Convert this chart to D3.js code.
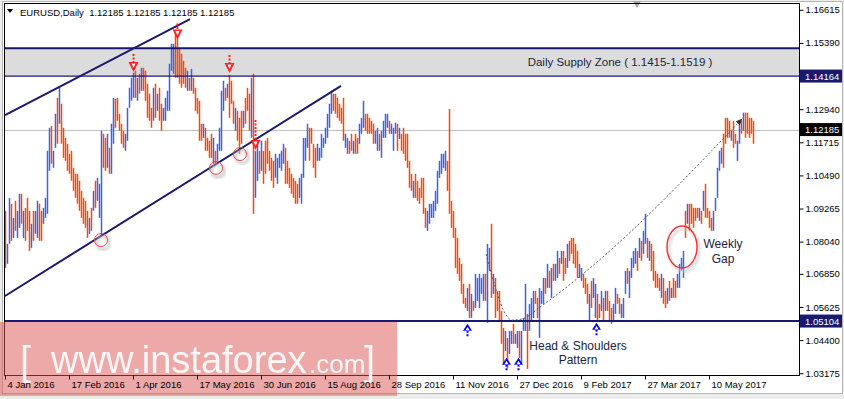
<!DOCTYPE html>
<html>
<head>
<meta charset="utf-8">
<script src="https://cdn.jsdelivr.net/npm/d3@7"></script>
<style>
body { margin: 0; background: #fff; }
svg { display: block; font-family: "Liberation Sans", Arial, sans-serif; }
</style>
</head>
<body>
<div id="chart"></div>
<script>
// EURUSD daily bars, Jan 2016 - May 2017
var hi = [
1.0918,1.0796,1.0966,1.0944,1.0892,1.0955,1.0918,1.0981,1.0981,1.0918,
1.0929,1.0966,1.0918,1.0870,1.0918,1.0918,1.0955,1.0944,1.0918,1.0929,
1.0966,1.1140,1.1225,1.1232,1.1140,1.1277,1.1336,1.1373,1.1314,1.1225,
1.1188,1.1166,1.1129,1.1140,1.1077,1.1055,1.1055,1.1029,1.0992,1.0966,
1.0955,1.0918,1.0892,1.0929,1.0992,1.1029,1.1040,1.1018,1.1214,1.1203,
1.1188,1.1203,1.1151,1.1240,1.1336,1.1332,1.1336,1.1277,1.1240,1.1214,
1.1203,1.1299,1.1373,1.1410,1.1429,1.1436,1.1410,1.1425,1.1447,1.1447,
1.1436,1.1388,1.1351,1.1299,1.1373,1.1388,1.1351,1.1373,1.1314,1.1299,
1.1336,1.1362,1.1462,1.1536,1.1536,1.1588,1.1558,1.1521,1.1499,1.1473,
1.1447,1.1436,1.1410,1.1443,1.1410,1.1373,1.1336,1.1325,1.1240,1.1240,
1.1225,1.1188,1.1177,1.1203,1.1188,1.1140,1.1166,1.1225,1.1362,1.1399,
1.1373,1.1388,1.1421,1.1399,1.1325,1.1299,1.1288,1.1262,1.1288,1.1288,
1.1336,1.1373,1.1351,1.1410,1.1425,1.1140,1.1166,1.1140,1.1177,1.1140,
1.1177,1.1188,1.1140,1.1114,1.1103,1.1129,1.1114,1.1129,1.1140,1.1166,
1.1151,1.1103,1.1077,1.1055,1.1040,1.1029,1.1018,1.1040,1.1055,1.1188,
1.1188,1.1240,1.1225,1.1225,1.1166,1.1151,1.1166,1.1151,1.1203,1.1188,
1.1225,1.1277,1.1314,1.1362,1.1351,1.1351,1.1336,1.1314,1.1299,1.1336,
1.1203,1.1188,1.1177,1.1203,1.1177,1.1203,1.1188,1.1240,1.1262,1.1325,
1.1277,1.1277,1.1262,1.1251,1.1240,1.1214,1.1225,1.1203,1.1214,1.1251,
1.1277,1.1277,1.1251,1.1240,1.1225,1.1244,1.1240,1.1225,1.1203,1.1225,
1.1203,1.1203,1.1103,1.1055,1.1029,1.1055,1.1029,1.1003,1.1040,1.1040,
1.0929,1.0918,1.0944,1.0944,1.0955,1.0992,1.1066,1.1103,1.1129,1.1129,
1.1140,1.1103,1.1295,1.0955,1.0918,1.0855,1.0818,1.0744,1.0722,1.0648,
1.0596,1.0633,1.0648,1.0611,1.0585,1.0685,1.0670,1.0685,1.0670,1.0685,
1.0685,1.0796,1.0781,1.0870,1.0685,1.0670,1.0622,1.0622,1.0548,1.0485,
1.0474,1.0448,1.0474,1.0474,1.0500,1.0463,1.0474,1.0474,1.0474,1.0522,
1.0648,1.0537,1.0574,1.0596,1.0622,1.0622,1.0596,1.0633,1.0622,1.0670,
1.0670,1.0722,1.0696,1.0707,1.0722,1.0722,1.0770,1.0744,1.0770,1.0770,
1.0744,1.0796,1.0807,1.0818,1.0818,1.0796,1.0770,1.0722,1.0707,1.0685,
1.0670,1.0648,1.0611,1.0659,1.0670,1.0648,1.0611,1.0574,1.0622,1.0596,
1.0622,1.0622,1.0585,1.0559,1.0574,1.0633,1.0611,1.0596,1.0574,1.0596,
1.0696,1.0707,1.0696,1.0744,1.0770,1.0781,1.0770,1.0818,1.0807,1.0844,
1.0907,1.0818,1.0807,1.0796,1.0770,1.0696,1.0685,1.0670,1.0685,1.0670,
1.0622,1.0633,1.0659,1.0633,1.0670,1.0659,1.0685,1.0722,1.0744,1.0770,
1.0918,1.0944,1.0944,1.0944,1.0929,1.0929,1.0929,1.0929,1.0918,1.0992,
1.1018,1.0929,1.0918,1.0892,1.0918,1.0966,1.1077,1.1140,1.1151,1.1203,
1.1262,1.1262,1.1251,1.1214,1.1251,1.1203,1.1177,1.1240,1.1251,1.1281,
1.1281,1.1281,1.1262,1.1262,1.1251
];
var lo = [
1.0707,1.0722,1.0796,1.0807,1.0818,1.0844,1.0818,1.0855,1.0870,1.0818,
1.0807,1.0844,1.0770,1.0781,1.0807,1.0833,1.0818,1.0807,1.0807,1.0870,
1.0892,1.0907,1.1066,1.1092,1.1077,1.1151,1.1166,1.1240,1.1166,1.1114,
1.1103,1.1066,1.1055,1.1029,1.0992,1.0966,1.0944,1.0918,1.0892,1.0870,
1.0855,1.0818,1.0833,1.0844,1.0918,1.0929,1.0955,1.0892,1.0825,1.1077,
1.1066,1.1077,1.1055,1.1055,1.1166,1.1225,1.1251,1.1214,1.1166,1.1151,
1.1140,1.1177,1.1299,1.1325,1.1336,1.1336,1.1325,1.1351,1.1362,1.1362,
1.1325,1.1262,1.1251,1.1225,1.1251,1.1262,1.1288,1.1251,1.1214,1.1251,
1.1251,1.1288,1.1288,1.1436,1.1425,1.1410,1.1410,1.1388,1.1373,1.1388,
1.1373,1.1362,1.1362,1.1362,1.1351,1.1288,1.1277,1.1177,1.1177,1.1188,
1.1140,1.1140,1.1114,1.1114,1.1092,1.1092,1.1103,1.1140,1.1140,1.1288,
1.1325,1.1336,1.1262,1.1314,1.1240,1.1214,1.1177,1.1129,1.1166,1.1225,
1.1240,1.1288,1.1214,1.1188,1.0907,1.0966,1.1029,1.1055,1.1066,1.1018,
1.1055,1.1092,1.1066,1.1029,1.1003,1.1040,1.1018,1.1077,1.1066,1.1092,
1.1018,1.1018,1.1003,1.0981,1.0966,1.0944,1.0944,1.0966,1.0944,1.1040,
1.1103,1.1151,1.1103,1.1166,1.1077,1.1040,1.1103,1.1103,1.1114,1.1151,
1.1166,1.1188,1.1225,1.1277,1.1288,1.1277,1.1262,1.1251,1.1240,1.1177,
1.1151,1.1129,1.1129,1.1140,1.1129,1.1129,1.1129,1.1166,1.1203,1.1225,
1.1214,1.1203,1.1203,1.1203,1.1166,1.1166,1.1140,1.1140,1.1114,1.1188,
1.1188,1.1225,1.1203,1.1203,1.1140,1.1203,1.1140,1.1184,1.1140,1.1129,
1.1103,1.1077,1.1003,1.0992,1.0966,1.0966,1.0955,1.0944,1.0966,1.0907,
1.0855,1.0844,1.0870,1.0892,1.0892,1.0918,1.0944,1.1040,1.1055,1.1077,
1.1066,1.0992,1.0907,1.0855,1.0818,1.0707,1.0685,1.0659,1.0611,1.0574,
1.0559,1.0548,1.0522,1.0522,1.0548,1.0559,1.0585,1.0559,1.0611,1.0585,
1.0585,1.0504,1.0696,1.0596,1.0611,1.0522,1.0548,1.0511,1.0426,1.0352,
1.0400,1.0337,1.0389,1.0426,1.0426,1.0426,1.0411,1.0374,1.0352,1.0474,
1.0474,1.0333,1.0474,1.0511,1.0522,1.0574,1.0522,1.0448,1.0574,1.0574,
1.0611,1.0633,1.0633,1.0596,1.0659,1.0659,1.0670,1.0685,1.0722,1.0659,
1.0685,1.0707,1.0733,1.0759,1.0722,1.0707,1.0670,1.0670,1.0659,1.0633,
1.0611,1.0574,1.0511,1.0559,1.0596,1.0522,1.0511,1.0522,1.0548,1.0511,
1.0548,1.0548,1.0511,1.0500,1.0511,1.0537,1.0574,1.0537,1.0522,1.0522,
1.0611,1.0648,1.0596,1.0670,1.0707,1.0722,1.0696,1.0744,1.0733,1.0759,
1.0796,1.0744,1.0733,1.0696,1.0659,1.0633,1.0633,1.0622,1.0596,1.0574,
1.0559,1.0574,1.0585,1.0596,1.0596,1.0596,1.0633,1.0633,1.0696,1.0670,
1.0818,1.0870,1.0844,1.0870,1.0855,1.0881,1.0892,1.0881,1.0870,1.0918,
1.0892,1.0892,1.0855,1.0844,1.0844,1.0918,1.0966,1.1066,1.1092,1.1077,
1.1166,1.1188,1.1188,1.1177,1.1151,1.1166,1.1103,1.1166,1.1203,1.1214,
1.1188,1.1203,1.1188,1.1203,1.1166
];
// 1 = bull bar (blue), 0 = bear bar (red)
var up = [
0,1,1,0,1,0,1,1,0,1, 0,0,0,1,0,1,1,0,0,1, 1,1,1,0,1,1,0,1,0,0, 0,0,0,0,0,0,0,0,0,0,
0,0,1,0,1,0,1,1,1,0, 0,1,0,1,1,0,0,0,0,0, 1,1,1,1,1,0,1,0,1,0, 0,0,0,0,1,0,1,0,0,1,
1,1,1,1,1,0,0,0,0,0, 0,1,0,1,0,0,0,0,0,1, 0,0,0,0,1,0,1,1,1,1, 0,1,0,0,0,1,0,0,0,1,
0,0,0,1,0,1,1,0,1,0, 0,0,0,0,0,1,1,1,1,1, 0,0,0,0,0,0,0,1,1,1, 1,1,0,0,0,0,1,1,1,1,
1,1,1,1,0,0,0,0,0,0, 1,1,0,0,1,0,0,1,1,1, 0,0,0,0,0,1,1,0,1,1, 1,1,0,1,1,1,0,1,0,0,
0,0,0,0,1,0,0,0,0,0, 0,1,1,1,1,1,1,1,1,1, 1,0,0,0,0,0,0,0,0,0, 0,1,0,1,0,1,1,1,1,1,
0,1,1,0,1,0,0,0,0,0, 1,0,1,1,0,1,1,0,1,1, 1,0,1,1,1,0,0,1,1,1, 0,1,0,1,0,1,1,0,1,0,
0,1,0,0,0,0,0,1,1,0, 0,0,1,0,1,1,0,0,1,0, 1,0,0,0,1,1,0,0,1,1, 1,0,1,1,1,1,0,1,0,1,
1,0,1,0,0,0,0,0,1,0, 0,1,0,1,0,0,1,1,1,1, 0,1,0,0,0,0,0,1,0,1, 0,0,0,0,1,1,1,1,1,0,
0,0,0,1,0,0,1,1,0,1, 0,0,0,0,0
];

var xTickIdx = [0, 32, 64, 96, 128, 160, 192, 224, 256, 288, 320, 352];
var xTickLabels = ["4 Jan 2016", "17 Feb 2016", "1 Apr 2016", "17 May 2016", "30 Jun 2016", "15 Aug 2016",
  "28 Sep 2016", "11 Nov 2016", "27 Dec 2016", "9 Feb 2017", "27 Mar 2017", "10 May 2017"];
var yTicks = [1.16615, 1.15390, 1.12940, 1.11715, 1.10490, 1.09265, 1.08040, 1.06850, 1.05625, 1.04400, 1.03175];

var zoneLow = 1.14164, zoneHigh = 1.1519;
var support = 1.05104;
var lastPrice = 1.12185;

// annotations in (bar index, price)
var channelTop = [[0, 1.1272], [92.5, 1.1627]];
var channelBottom = [[0, 1.0603], [168, 1.1380]];
var hsPath = [[240.5, 1.0758], [245, 1.0640], [249, 1.0554], [253.5, 1.0514], [258.5, 1.0518],
  [267.5, 1.0562], [277.5, 1.0617], [290, 1.0691], [368.5, 1.1258]];
var downArrows = [[64, 1.1431, 8], [86, 1.1552, 6], [112, 1.1428, 8], [125, 1.1143, 20]];
var upArrows = [[231, 1.0500], [250.5, 1.0375], [256.5, 1.0375], [295.5, 1.0504]];
var rings = [[48, 1.0810], [105.5, 1.1077], [117.5, 1.1128]];
var gapRing = [338.5, 1.0784];

var W = 844, H = 399;
var x = d3.scaleLinear().domain([0, 374]).range([5, 753]);
var y = d3.scaleLinear().domain([1.03175, 1.16615]).range([373.2, 9.8]);

var svg = d3.select("#chart").append("svg")
  .attr("width", W)
  .attr("height", H);

var defs = svg.append("defs");
defs.append("filter").attr("id", "shadow")
  .append("feGaussianBlur").attr("stdDeviation", 1.4);
defs.append("marker")
  .attr("id", "tip")
  .attr("viewBox", "0 0 10 10")
  .attr("refX", 9).attr("refY", 5)
  .attr("markerWidth", 7).attr("markerHeight", 7)
  .attr("orient", "auto")
  .append("path").attr("d", "M0,1 L10,5 L0,9 Z").attr("fill", "#333");

svg.append("rect").attr("width", W).attr("height", H).attr("fill", "#ececec");
svg.append("rect").attr("x", 2.5).attr("y", 1.5).attr("width", 840).attr("height", 392)
  .attr("fill", "#fff").attr("stroke", "#b5b5b5");

// supply zone
svg.append("rect")
  .attr("x", 5).attr("width", 794)
  .attr("y", y(zoneHigh)).attr("height", y(zoneLow) - y(zoneHigh))
  .attr("fill", "#dcdcdc");

// last price line
svg.append("line")
  .attr("x1", 5).attr("x2", 799)
  .attr("y1", Math.round(y(lastPrice)) + 0.5).attr("y2", Math.round(y(lastPrice)) + 0.5)
  .attr("stroke", "#c0c0c0");

// bars
svg.append("g")
  .selectAll("line")
  .data(hi)
  .join("line")
  .attr("x1", function(d, i) { return x(i) + 0.5; })
  .attr("x2", function(d, i) { return x(i) + 0.5; })
  .attr("y1", function(d) { return y(d); })
  .attr("y2", function(d, i) { return Math.max(y(lo[i]), y(d) + 1); })
  .attr("stroke", function(d, i) { return up[i] ? "#3a62e8" : "#ff4500"; })
  .attr("stroke-width", 1.5);

// zone borders and support
svg.append("line").attr("x1", 5).attr("x2", 799)
  .attr("y1", y(zoneHigh)).attr("y2", y(zoneHigh))
  .attr("stroke", "#191970").attr("stroke-width", 2);
svg.append("line").attr("x1", 5).attr("x2", 799)
  .attr("y1", y(zoneLow)).attr("y2", y(zoneLow))
  .attr("stroke", "#191970").attr("stroke-width", 1.3);
svg.append("line").attr("x1", 5).attr("x2", 799)
  .attr("y1", y(support)).attr("y2", y(support))
  .attr("stroke", "#191970").attr("stroke-width", 2);

var line = d3.line()
  .x(function(d) { return x(d[0]); })
  .y(function(d) { return y(d[1]); });

svg.append("path").datum(channelTop).attr("d", line)
  .attr("stroke", "#191970").attr("stroke-width", 2).attr("fill", "none");
svg.append("path").datum(channelBottom).attr("d", line)
  .attr("stroke", "#191970").attr("stroke-width", 2).attr("fill", "none");

// head & shoulders path
svg.append("path").datum(hsPath)
  .attr("d", line.curve(d3.curveMonotoneX))
  .attr("stroke", "#555").attr("stroke-width", 1)
  .attr("stroke-dasharray", "2,2").attr("fill", "none")
  .attr("marker-end", "url(#tip)");

// circles
var ringG = svg.append("g");
rings.forEach(function(r) {
  ringG.append("circle").attr("cx", x(r[0]) + 2).attr("cy", y(r[1]) + 3).attr("r", 6.5)
    .attr("fill", "none").attr("stroke", "#bbb").attr("stroke-width", 2).attr("filter", "url(#shadow)");
  ringG.append("circle").attr("cx", x(r[0])).attr("cy", y(r[1])).attr("r", 6.5)
    .attr("fill", "none").attr("stroke", "#f04848").attr("stroke-width", 1);
});
ringG.append("ellipse").attr("cx", x(gapRing[0]) + 2).attr("cy", y(gapRing[1]) + 3)
  .attr("rx", 15).attr("ry", 21)
  .attr("fill", "none").attr("stroke", "#ccc").attr("stroke-width", 2).attr("filter", "url(#shadow)");
ringG.append("ellipse").attr("cx", x(gapRing[0])).attr("cy", y(gapRing[1]))
  .attr("rx", 15).attr("ry", 21)
  .attr("fill", "none").attr("stroke", "#ee3030").attr("stroke-width", 1.4);

// red sell arrows
downArrows.forEach(function(a) {
  var tx = Math.round(x(a[0])) + 0.5, ty = y(a[1]);
  svg.append("line").attr("x1", tx).attr("x2", tx)
    .attr("y1", ty - 10 - a[2]).attr("y2", ty - 10)
    .attr("stroke", "#ff2020").attr("stroke-width", 2).attr("stroke-dasharray", "2,1.5");
  svg.append("path")
    .attr("d", "M" + (tx - 5) + "," + (ty - 10) + "L" + (tx + 5) + "," + (ty - 10) + "L" + tx + "," + ty + "Z")
    .attr("fill", "#ff2020");
  svg.append("path")
    .attr("d", "M" + (tx - 2) + "," + (ty - 8.5) + "L" + (tx + 2) + "," + (ty - 8.5) + "L" + tx + "," + (ty - 4) + "Z")
    .attr("fill", "#fff");
});

// blue buy arrows
upArrows.forEach(function(a) {
  var tx = Math.round(x(a[0])) + 0.5, ty = y(a[1]);
  svg.append("line").attr("x1", tx).attr("x2", tx)
    .attr("y1", ty + 7).attr("y2", ty + 13)
    .attr("stroke", "#0000ff").attr("stroke-width", 2).attr("stroke-dasharray", "2,1.5");
  svg.append("path")
    .attr("d", "M" + (tx - 4.5) + "," + (ty + 7) + "L" + (tx + 4.5) + "," + (ty + 7) + "L" + tx + "," + ty + "Z")
    .attr("fill", "#0000ff");
  svg.append("path")
    .attr("d", "M" + (tx - 2) + "," + (ty + 6.5) + "L" + (tx + 2) + "," + (ty + 6.5) + "L" + tx + "," + (ty + 3) + "Z")
    .attr("fill", "#fff");
});

// notes
var noteColor = "#1a2440";
svg.append("text").attr("x", 620).attr("y", (y(zoneHigh) + y(zoneLow)) / 2 + 4)
  .attr("text-anchor", "middle").attr("font-size", 11.5).attr("fill", noteColor)
  .text("Daily Supply Zone ( 1.1415-1.1519 )");
svg.append("text").attr("x", 578).attr("y", 350)
  .attr("text-anchor", "middle").attr("font-size", 12).attr("fill", noteColor)
  .text("Head & Shoulders");
svg.append("text").attr("x", 578).attr("y", 364)
  .attr("text-anchor", "middle").attr("font-size", 12).attr("fill", noteColor)
  .text("Pattern");
svg.append("text").attr("x", 723).attr("y", 248)
  .attr("text-anchor", "middle").attr("font-size", 12).attr("fill", noteColor)
  .text("Weekly");
svg.append("text").attr("x", 723).attr("y", 263)
  .attr("text-anchor", "middle").attr("font-size", 12).attr("fill", noteColor)
  .text("Gap");

// header
svg.append("path").attr("d", "M7,9 L13,9 L10,13 Z").attr("fill", "#000");
svg.append("text").attr("x", 20).attr("y", 16).attr("font-size", 9.5).attr("fill", "#000")
  .attr("xml:space", "preserve")
  .text("EURUSD,Daily  1.12185 1.12185 1.12185 1.12185");

// chart shift marker
svg.append("path").attr("d", "M633,1 L641,1 L637,8 Z").attr("fill", "#a8a8a8");

// plot frame
svg.append("rect").attr("x", 4.5).attr("y", 3.5).attr("width", 795).attr("height", 372)
  .attr("fill", "none").attr("stroke", "#000");

// watermark
svg.append("rect").attr("x", 0).attr("y", 322).attr("width", 397).attr("height", 74)
  .attr("fill", "#d9534f").attr("opacity", 0.5);
var wm = svg.append("g").attr("fill", "#fff").attr("opacity", 0.9);
wm.append("text").attr("x", 20).attr("y", 375).attr("font-size", 40).attr("font-weight", 300).text("[");
wm.append("text").attr("x", 51).attr("y", 373).attr("font-size", 38).text("www.instaforex");
wm.append("text").attr("x", 309).attr("y", 373).attr("font-size", 26).text(".com");
wm.append("text").attr("x", 364).attr("y", 375).attr("font-size", 40).attr("font-weight", 300).text("]");

// right price axis
var yAxis = svg.append("g")
  .attr("transform", "translate(799.5,0)")
  .call(d3.axisRight(y).tickValues(yTicks).tickSize(4).tickFormat(d3.format(".5f")));
yAxis.select(".domain").remove();
yAxis.selectAll("text").attr("x", 6).attr("font-size", 9.5).attr("fill", "#000")
  .attr("font-family", "Liberation Sans, Arial, sans-serif");
yAxis.selectAll("line").attr("stroke", "#000");

var tags = [[zoneLow, "#191970"], [lastPrice, "#000"], [support, "#191970"]];
tags.forEach(function(t) {
  var ty = y(t[0]);
  svg.append("rect").attr("x", 800).attr("y", ty - 6.5).attr("width", 42).attr("height", 13).attr("fill", t[1]);
  svg.append("text").attr("x", 805).attr("y", ty + 3.5).attr("font-size", 9.5).attr("fill", "#fff")
    .text(d3.format(".5f")(t[0]));
});

// time axis
var xAxis = svg.append("g")
  .attr("transform", "translate(0,375.5)")
  .call(d3.axisBottom(x).tickValues(xTickIdx).tickSize(4)
    .tickFormat(function(d, i) { return xTickLabels[i]; }));
xAxis.select(".domain").remove();
xAxis.selectAll("line").attr("stroke", "#000");
xAxis.selectAll("text").attr("text-anchor", "start").attr("x", 2).attr("y", 6)
  .attr("font-size", 9.5).attr("fill", "#000")
  .attr("font-family", "Liberation Sans, Arial, sans-serif");
</script>
</body>
</html>
